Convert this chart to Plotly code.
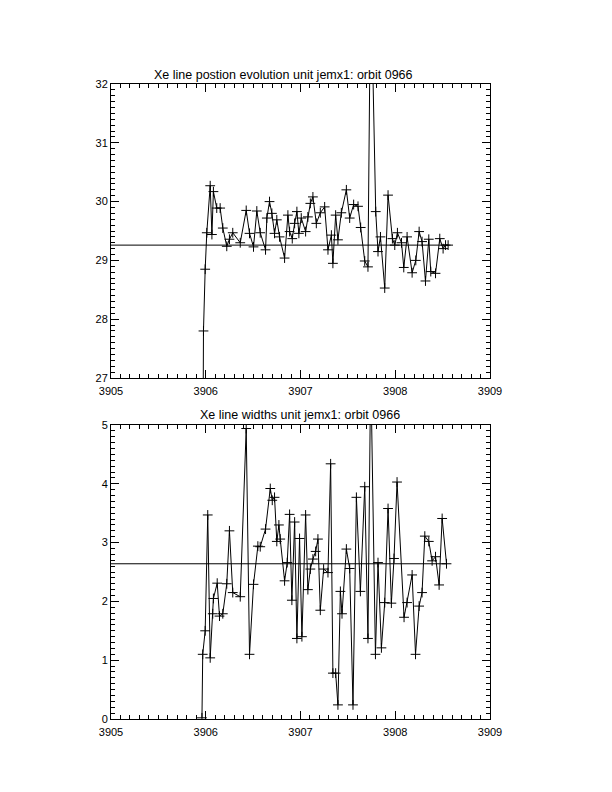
import plotly.graph_objects as go

# ---- data: Xe line position ----
t_pos = [3905.96, 3905.976, 3905.994, 3906.011, 3906.047, 3906.065, 3906.081, 3906.116, 3906.152, 3906.18,
         3906.222, 3906.25, 3906.285, 3906.364, 3906.427, 3906.462, 3906.504, 3906.539, 3906.575, 3906.631,
         3906.645, 3906.673, 3906.698, 3906.726, 3906.75, 3906.779, 3906.832, 3906.867, 3906.885, 3906.913,
         3906.938, 3906.962, 3906.983, 3907.008, 3907.054, 3907.078, 3907.104, 3907.131, 3907.167, 3907.209,
         3907.255, 3907.29, 3907.326, 3907.342, 3907.371, 3907.395, 3907.431, 3907.484, 3907.519, 3907.561,
         3907.607, 3907.635, 3907.678, 3907.712, 3907.741, 3907.794, 3907.818, 3907.844, 3907.889, 3907.924,
         3907.97, 3907.995, 3908.023, 3908.066, 3908.09, 3908.125, 3908.178, 3908.217, 3908.252, 3908.283,
         3908.319, 3908.354, 3908.375, 3908.425, 3908.47, 3908.505, 3908.531, 3908.558]
pos = [22.0, 27.8, 28.85, 29.47, 30.27, 29.44, 30.17, 29.89, 29.89, 29.55,
       29.24, 29.36, 29.47, 29.3, 29.85, 29.46, 29.23, 29.84, 29.47, 29.18,
       29.72, 30.0, 29.8, 29.46, 29.69, 29.4, 29.04, 29.77, 29.49, 29.37,
       29.63, 29.83, 29.46, 29.72, 29.49, 29.74, 29.97, 30.08, 29.63, 29.81,
       29.91, 29.18, 29.43, 28.95, 29.77, 29.35, 29.81, 30.2, 29.72, 29.95,
       29.92, 29.56, 28.99, 28.89, 34.0, 29.83, 29.15, 29.4, 28.53, 30.11,
       29.37, 29.26, 29.47, 29.3, 28.88, 29.4, 28.79, 29.0, 29.49, 29.32,
       28.65, 29.36, 28.81, 28.78, 29.37, 29.2, 29.26, 29.26]
pos_mean = 29.26

# ---- data: Xe line widths ----
t_wid = [3905.96, 3905.968, 3905.994, 3906.021, 3906.047, 3906.074, 3906.081, 3906.121, 3906.145, 3906.18,
         3906.222, 3906.25, 3906.285, 3906.364, 3906.427, 3906.462, 3906.504, 3906.55, 3906.575, 3906.631,
         3906.681, 3906.702, 3906.726, 3906.75, 3906.772, 3906.786, 3906.832, 3906.86, 3906.885, 3906.909,
         3906.938, 3906.962, 3906.99, 3907.015, 3907.054, 3907.078, 3907.104, 3907.131, 3907.16, 3907.184,
         3907.209, 3907.244, 3907.29, 3907.318, 3907.342, 3907.371, 3907.395, 3907.421, 3907.438, 3907.484,
         3907.519, 3907.554, 3907.59, 3907.632, 3907.678, 3907.712, 3907.741, 3907.791, 3907.818, 3907.854,
         3907.889, 3907.924, 3907.959, 3907.987, 3908.019, 3908.093, 3908.125, 3908.178, 3908.214, 3908.252,
         3908.283, 3908.312, 3908.354, 3908.389, 3908.425, 3908.463, 3908.495, 3908.541]
wid = [0.02, 1.1, 1.5, 3.47, 1.04, 1.79, 2.05, 2.31, 1.75, 1.79,
       2.3, 3.2, 2.15, 2.08, 4.94, 1.1, 2.29, 2.94, 2.93, 3.23,
       3.92, 3.72, 3.77, 3.02, 3.3, 3.06, 2.35, 2.66, 3.48, 2.02,
       3.35, 1.37, 3.07, 1.4, 3.47, 2.2, 2.55, 2.72, 2.85, 3.06,
       1.85, 2.55, 2.49, 4.34, 0.78, 0.78, 0.24, 2.17, 1.79, 2.89,
       2.56, 0.24, 3.77, 2.17, 3.95, 1.37, 6.0, 1.1, 2.66, 1.21,
       1.98, 3.58, 1.97, 2.73, 4.03, 1.73, 1.98, 2.45, 1.1, 1.92,
       2.15, 3.11, 3.02, 2.69, 2.76, 2.28, 3.41, 2.64]
wid_mean = 2.64

titles = ["Xe line postion evolution unit jemx1: orbit 0966",
          "Xe line widths unit jemx1: orbit 0966"]
x_ticks = [3905, 3906, 3907, 3908, 3909]

FONT = "Liberation Sans"
fig = go.Figure()

def add_panel(t, v, mean, xa, ya):
    fig.add_trace(go.Scatter(x=t, y=v, mode="lines+markers", xaxis=xa, yaxis=ya,
                             line=dict(color="black", width=1),
                             marker=dict(symbol="cross-thin", size=7,
                                         line=dict(color="black", width=1)),
                             cliponaxis=True, showlegend=False))
    fig.add_trace(go.Scatter(x=[x_ticks[0], t[-1]], y=[mean, mean], mode="lines",
                             xaxis=xa, yaxis=ya, line=dict(color="black", width=1),
                             showlegend=False))

add_panel(t_pos, pos, pos_mean, "x", "y")
add_panel(t_wid, wid, wid_mean, "x2", "y2")

W, H = 612, 792
OFF = 8  # page body margin offset
def px_x(p):
    return (p - OFF) / W
def px_y(p):
    return 1 - (p - OFF) / H

xdom = [px_x(111), px_x(490)]
ydom1 = [px_y(378), px_y(84)]
ydom2 = [px_y(719), px_y(425)]

axis_common = dict(showgrid=False, zeroline=False, showline=True, linecolor="black",
                   linewidth=1, mirror="ticks", ticks="inside", ticklen=8, tickwidth=1,
                   tickcolor="black", automargin=False,
                   tickfont=dict(family=FONT, size=11, color="black"))

def xaxis(anchor):
    d = dict(axis_common)
    d.update(domain=xdom, anchor=anchor, range=[3905, 3909], tickvals=x_ticks,
             ticktext=[str(v) for v in x_ticks], ticklabelstandoff=3,
             minor=dict(dtick=0.1, ticklen=4, ticks="inside", tickcolor="black", tickwidth=1))
    return d

def yaxis(anchor, dom, rng):
    d = dict(axis_common)
    d.update(domain=dom, anchor=anchor, range=rng, dtick=1,
             minor=dict(dtick=0.1, ticklen=4, ticks="inside", tickcolor="black", tickwidth=1))
    return d

fig.update_layout(
    template="none",
    width=W, height=H, paper_bgcolor="white", plot_bgcolor="white",
    margin=dict(l=0, r=0, t=0, b=0, pad=0),
    xaxis=xaxis("y"), yaxis=yaxis("x", ydom1, [27, 32]),
    xaxis2=xaxis("y2"), yaxis2=yaxis("x2", ydom2, [0, 5]),
    annotations=[
        dict(text=titles[0], x=px_x(283), y=px_y(75), xref="paper", yref="paper",
             showarrow=False, xanchor="center", yanchor="middle",
             font=dict(family=FONT, size=12.5, color="black")),
        dict(text=titles[1], x=px_x(300), y=px_y(415), xref="paper", yref="paper",
             showarrow=False, xanchor="center", yanchor="middle",
             font=dict(family=FONT, size=12.5, color="black")),
    ],
)

fig.write_html("out.html")
